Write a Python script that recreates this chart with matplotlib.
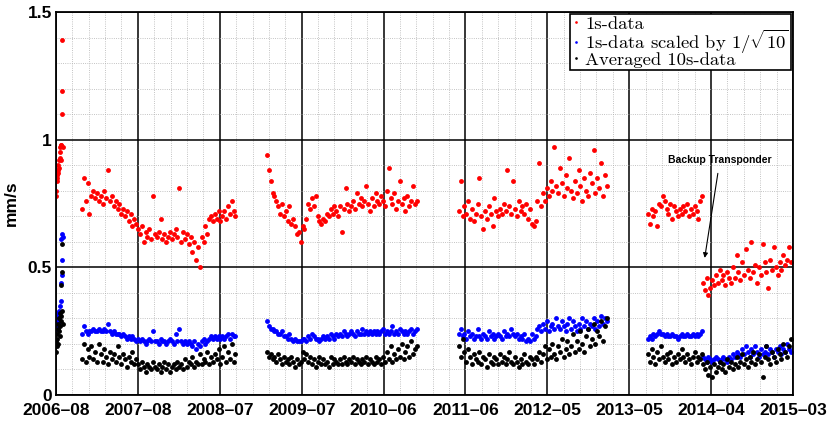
import numpy as np
import matplotlib
matplotlib.use("Agg")
import matplotlib.pyplot as plt

# --- Datos (mm/s en centesimas), un bloque por campaña ---
# dia de inicio de cada bloque (dias desde 2006-08) y paso entre muestras
seg_start = [0, 111, 902, 1722, 2530, 2765]
seg_step = [1.5, 8, 8, 8, 8, 8]

red_a = [80, 78, 84, 86, 85, 88, 90, 87, 92, 89, 93, 97, 95, 98, 92, 98, 139, 110, 119, 97]
blue_a = [26, 28, 27, 29, 31, 30, 28, 32, 33, 30, 31, 29, 35, 37, 61, 44, 63, 47, 53, 62]
black_a = [17, 21, 19, 24, 22, 26, 20, 28, 25, 30, 27, 23, 32, 29, 43, 31, 59, 33, 48, 28]

red_b = [73, 85, 76, 83, 71, 78, 80, 77, 79, 76,
         78, 75, 80, 77, 88, 76, 78, 74, 76, 73,
         75, 71, 73, 70, 72, 68, 71, 66, 69, 67,
         65, 63, 66, 60, 64, 62, 65, 61, 78, 63,
         62, 64, 69, 61, 63, 60, 62, 64, 61, 63,
         65, 62, 81, 60, 64, 61, 63, 59, 62, 56,
         60, 53, 58, 50, 62, 60, 66, 63, 69, 70,
         68, 71, 69, 72, 68, 70, 72, 69, 74, 71,
         76, 72, 70]
blue_b = [24, 27, 25, 24, 25, 25, 26, 25, 25, 26,
          25, 25, 26, 25, 28, 25, 24, 25, 24, 24,
          24, 23, 24, 23, 22, 23, 22, 23, 22, 21,
          22, 21, 22, 21, 20, 21, 22, 21, 25, 21,
          21, 20, 22, 21, 21, 20, 21, 22, 21, 20,
          24, 21, 26, 21, 20, 21, 20, 21, 20, 19,
          21, 18, 20, 19, 21, 22, 20, 21, 22, 23,
          22, 23, 22, 23, 22, 23, 22, 23, 24, 22,
          24, 23, 23]
black_b = [14, 20, 13, 18, 15, 19, 14, 17, 13, 20,
           16, 13, 18, 15, 12, 17, 14, 16, 13, 19,
           15, 12, 16, 14, 11, 15, 13, 17, 12, 14,
           12, 10, 13, 11, 9, 12, 11, 10, 13, 11,
           10, 12, 9, 11, 13, 10, 12, 9, 11, 12,
           10, 13, 11, 12, 10, 14, 11, 13, 12, 15,
           11, 13, 12, 16, 12, 14, 13, 17, 12, 15,
           13, 16, 14, 18, 12, 15, 19, 13, 17, 14,
           20, 13, 16]

red_c = [94, 88, 84, 79, 78, 76, 74, 71, 75, 70,
         72, 68, 74, 67, 69, 66, 63, 64, 60, 66,
         65, 69, 75, 73, 77, 74, 78, 70, 68, 67,
         69, 68, 71, 70, 73, 71, 74, 72, 70, 74,
         64, 73, 81, 75, 72, 74, 76, 73, 79, 75,
         77, 74, 76, 82, 75, 72, 77, 74, 79, 76,
         75, 78, 76, 74, 80, 89, 77, 75, 79, 73,
         76, 84, 75, 77, 72, 78, 74, 76, 82, 75,
         76]
blue_c = [29, 27, 26, 26, 25, 25, 24, 24, 25, 23,
          23, 22, 24, 22, 21, 22, 21, 21, 21, 22,
          22, 21, 23, 22, 24, 23, 22, 22, 21, 22,
          23, 22, 23, 22, 24, 23, 22, 24, 23, 24,
          23, 25, 24, 23, 24, 25, 24, 23, 25, 24,
          24, 26, 24, 25, 24, 25, 24, 25, 24, 25,
          24, 25, 26, 24, 25, 24, 25, 27, 24, 25,
          24, 26, 25, 24, 25, 24, 25, 26, 24, 25,
          26]
black_c = [17, 15, 16, 14, 15, 13, 16, 14, 12, 15,
           13, 14, 12, 15, 13, 11, 14, 12, 13, 17,
           14, 16, 13, 15, 12, 14, 11, 13, 15, 12,
           14, 12, 13, 11, 15, 12, 14, 13, 12, 14,
           12, 15, 13, 12, 14, 13, 15, 12, 14, 13,
           12, 14, 13, 15, 12, 14, 13, 12, 15, 13,
           14, 12, 15, 13, 17, 14, 19, 13, 16, 14,
           18, 15, 20, 14, 17, 19, 15, 21, 16, 18,
           19]

red_d = [72, 84, 70, 74, 71, 76, 69, 73, 68, 71,
         75, 85, 70, 65, 72, 69, 74, 71, 66, 77,
         72, 70, 73, 71, 75, 72, 88, 74, 71, 84,
         73, 70, 76, 72, 74, 71, 75, 69, 73, 67,
         66, 68, 76, 91, 74, 79, 76, 81, 78, 84,
         80, 97, 82, 79, 89, 83, 78, 86, 81, 93,
         80, 77, 84, 79, 88, 82, 76, 85, 80, 78,
         87, 83, 96, 79, 85, 81, 91, 78, 86, 82]
blue_d = [24, 26, 23, 24, 22, 25, 23, 24, 22, 23,
          26, 23, 22, 24, 23, 22, 25, 23, 24, 22,
          23, 24, 23, 22, 25, 23, 24, 23, 26, 24,
          23, 24, 22, 23, 22, 24, 21, 22, 21, 24,
          22, 23, 26, 27, 25, 28, 26, 29, 25, 27,
          28, 26, 30, 27, 26, 29, 27, 25, 28, 30,
          26, 29, 27, 25, 28, 26, 30, 27, 29, 26,
          28, 27, 30, 26, 29, 27, 31, 28, 30, 29]
black_d = [19, 15, 22, 17, 13, 18, 15, 12, 16, 14,
           13, 17, 12, 15, 14, 11, 16, 13, 12, 15,
           14, 12, 16, 13, 15, 12, 14, 17, 13, 12,
           15, 13, 11, 14, 12, 16, 13, 12, 15, 14,
           12, 15, 14, 17, 13, 16, 19, 14, 18, 15,
           20, 16, 14, 19, 17, 22, 15, 18, 21, 16,
           19, 24, 17, 21, 18, 25, 20, 17, 23, 26,
           19, 22, 28, 20, 25, 23, 29, 21, 27, 30]

red_e = [71, 67, 73, 70, 72, 66, 75, 74, 78, 76,
         73, 71, 75, 69, 74, 72, 70, 73, 71, 74,
         72, 75, 70, 73, 71, 74, 72, 69, 76, 78]
blue_e = [22, 23, 22, 24, 23, 24, 25, 24, 24, 23,
          24, 23, 23, 24, 23, 23, 22, 23, 24, 23,
          23, 24, 23, 23, 24, 23, 24, 23, 24, 25]
black_e = [16, 13, 18, 15, 12, 17, 14, 19, 15, 13,
           16, 14, 17, 12, 15, 13, 16, 14, 18, 15,
           13, 16, 14, 12, 15, 17, 13, 15, 14, 16]

red_f = [44, 41, 46, 39, 42, 45, 43, 47, 44, 49,
         45, 47, 43, 48, 46, 44, 50, 46, 55, 48,
         45, 52, 47, 57, 49, 46, 60, 48, 51, 44,
         50, 47, 59, 52, 48, 42, 53, 49, 58, 50,
         47, 52, 49, 55, 51, 53, 58, 52]
blue_f = [15, 14, 13, 15, 14, 13, 14, 15, 14, 13,
          14, 15, 14, 13, 15, 14, 16, 15, 17, 16,
          15, 18, 16, 19, 17, 15, 18, 16, 19, 17,
          15, 18, 16, 17, 19, 16, 18, 17, 15, 18,
          17, 19, 16, 18, 17, 20, 18, 17]
black_f = [12, 10, 13, 8, 11, 7, 12, 9, 11, 13,
           10, 12, 9, 14, 11, 13, 10, 12, 15, 11,
           13, 16, 12, 14, 11, 15, 13, 17, 12, 14,
           16, 13, 7, 15, 19, 14, 12, 17, 15, 13,
           18, 16, 14, 20, 17, 15, 19, 22]

red_segs = [red_a, red_b, red_c, red_d, red_e, red_f]
blue_segs = [blue_a, blue_b, blue_c, blue_d, blue_e, blue_f]
black_segs = [black_a, black_b, black_c, black_d, black_e, black_f]

tick_days = [0, 350, 700, 1050, 1400, 1750, 2100, 2450, 2800, 3150]
tick_labels = ["2006–08", "2007–08", "2008–07", "2009–07", "2010–06",
               "2011–06", "2012–05", "2013–05", "2014–04", "2015–03"]

plt.rcParams['mathtext.fontset'] = 'cm'


def join(segs):
    xs, ys = [], []
    for s0, st, vals in zip(seg_start, seg_step, segs):
        xs.append(s0 + st * np.arange(len(vals)))
        ys.append(np.array(vals) / 100.0)
    return np.concatenate(xs), np.concatenate(ys)


fig = plt.figure(figsize=(8.32, 4.23), dpi=100)
ax = fig.add_axes([0.0673, 0.0662, 0.8857, 0.9054])

ms = 3.5
x, y = join(red_segs)
ax.plot(x, y, 'o', color=(1, 0, 0), ms=ms, mew=0, label="1s-data")
x, y = join(blue_segs)
ax.plot(x, y, 'o', color=(0, 0, 1), ms=ms, mew=0, label=r"1s-data scaled by $1/\sqrt{10}$")
x, y = join(black_segs)
ax.plot(x, y, 'o', color='k', ms=ms, mew=0, label="Averaged 10s-data")

ax.set_xlim(0, 3150)
ax.set_ylim(0, 1.5)
ax.set_xticks(tick_days)
ax.set_xticklabels(tick_labels)
ax.set_yticks([0, 0.5, 1, 1.5])
ax.set_yticklabels(["0", "0.5", "1", "1.5"])
ax.set_xticks(np.arange(0, 3151, 70), minor=True)
ax.set_yticks(np.arange(0, 1.51, 0.1), minor=True)

ax.grid(which='major', color='k', lw=1.1, ls='-')
ax.grid(which='minor', color='#b0b0b0', lw=0.6, ls=':')
ax.set_axisbelow(True)
for sp in ax.spines.values():
    sp.set_linewidth(1.3)

lab_font = dict(family='Liberation Sans', weight='bold', size=12.5)
for t in ax.get_xticklabels() + ax.get_yticklabels():
    t.set_fontproperties(matplotlib.font_manager.FontProperties(**lab_font))
ax.tick_params(which='both', direction='in', length=0)
ax.tick_params(axis='x', pad=6)
ax.tick_params(axis='y', pad=3)
ax.set_ylabel("mm/s", fontdict=lab_font, labelpad=6)

leg = ax.legend(loc='upper right', prop={'family': 'cmr10', 'size': 13.4},
                frameon=True, fancybox=False, borderaxespad=0.1,
                handlelength=0.4, handletextpad=0.3, labelspacing=-0.22,
                borderpad=0.1, markerscale=0.55)
leg.get_frame().set_edgecolor('k')
leg.get_frame().set_linewidth(1.2)
leg.get_frame().set_alpha(1)

ax.annotate("Backup Transponder", xy=(2773, 0.537), xytext=(2838, 0.92),
            ha='center', va='center', fontsize=7.5, fontweight='bold',
            family='Liberation Sans',
            arrowprops=dict(arrowstyle='-|>', color='k', lw=0.8,
                            mutation_scale=7, shrinkA=4, shrinkB=0))

fig.savefig("out.png", dpi=100)
